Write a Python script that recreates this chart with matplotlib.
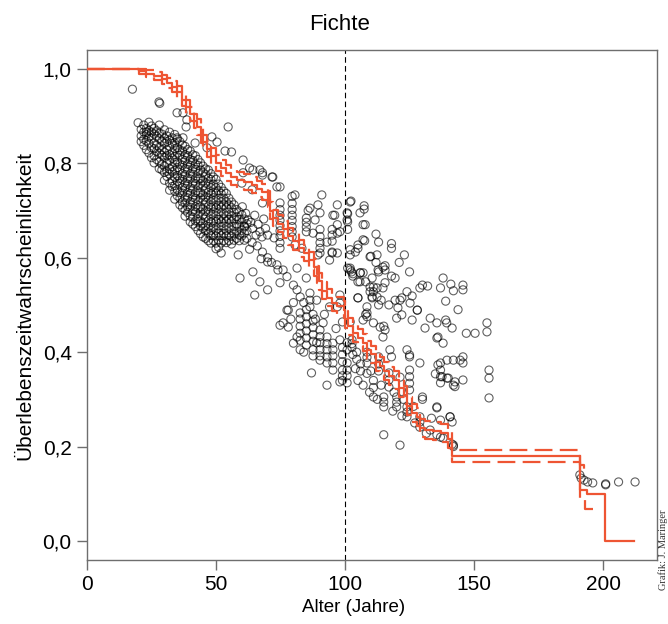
import matplotlib
matplotlib.use("Agg")
import matplotlib.pyplot as plt
from matplotlib import font_manager

# ---------------- data ----------------
title = "Fichte"
xlabel = "Alter (Jahre)"
ylabel = "Überlebenszeitwahrscheinlichkeit"
credit = "Grafik: J. Maringer"
x_ticks = [0, 50, 100, 150, 200]
y_ticks = [0.0, 0.2, 0.4, 0.6, 0.8, 1.0]
y_ticklabels = ["0,0", "0,2", "0,4", "0,6", "0,8", "1,0"]
ref_age = 100

# Kaplan-Meier estimate (step function, 'post')
km_time = [0, 20, 23, 26, 29, 31, 33, 35, 37, 38.5, 40, 41.5, 42.5, 44, 45, 46.5, 48, 50, 52, 54,
           56, 58, 61, 64, 66, 68, 70, 71, 72, 74, 76, 78, 80, 82, 84, 86, 88, 89, 90, 91,
           93, 95, 97, 99.5, 100, 101, 103, 105, 107, 108.5, 110, 112, 113.5, 115, 117, 119, 121, 123, 124, 126,
           128, 129, 131, 134, 137, 140, 141.5, 191, 193.8, 200.8, 212]
km_surv = [1.0, 0.995, 0.99, 0.985, 0.978, 0.97, 0.962, 0.95, 0.935, 0.92, 0.905, 0.89, 0.877, 0.86, 0.845, 0.83, 0.815, 0.80, 0.79, 0.78,
           0.77, 0.765, 0.76, 0.755, 0.745, 0.74, 0.725, 0.70, 0.685, 0.672, 0.66, 0.645, 0.635, 0.62, 0.61, 0.595, 0.58, 0.565, 0.55, 0.53,
           0.515, 0.505, 0.498, 0.49, 0.47, 0.455, 0.44, 0.43, 0.42, 0.405, 0.395, 0.38, 0.37, 0.36, 0.35, 0.34, 0.325, 0.31, 0.285, 0.272,
           0.262, 0.24, 0.235, 0.232, 0.228, 0.215, 0.18, 0.108, 0.10, 0.0, 0.0]

up_time = [0, 20, 23, 26, 29, 31, 33, 35, 37, 38.5, 40, 41.5, 42.5, 44, 45, 46.5, 48, 50, 52, 54,
           56, 58, 61, 64, 66, 68, 70, 71, 72, 74, 76, 78, 80, 82, 84, 86, 88, 89, 90, 91,
           93, 95, 97, 99.5, 100, 101, 103, 105, 107, 108.5, 110, 112, 113.5, 115, 117, 119, 121, 123, 124, 126,
           128, 129, 131, 134, 137, 140, 141.5, 191, 192.5, 194]
up_surv = [1.0, 1.0, 0.998, 0.994, 0.988, 0.981, 0.974, 0.963, 0.949, 0.935, 0.92, 0.905, 0.893, 0.876, 0.861, 0.847, 0.832, 0.817, 0.807, 0.797,
           0.787, 0.782, 0.777, 0.772, 0.762, 0.757, 0.742, 0.717, 0.702, 0.69, 0.678, 0.663, 0.653, 0.638, 0.628, 0.613, 0.598, 0.583, 0.568, 0.548,
           0.533, 0.523, 0.516, 0.508, 0.488, 0.473, 0.458, 0.448, 0.438, 0.424, 0.414, 0.399, 0.389, 0.379, 0.369, 0.359, 0.344, 0.329, 0.304, 0.291,
           0.281, 0.259, 0.254, 0.251, 0.247, 0.234, 0.193, 0.161, 0.148, 0.148]

lo_time = [0, 20, 23, 26, 29, 31, 33, 35, 37, 38.5, 40, 41.5, 42.5, 44, 45, 46.5, 48, 50, 52, 54,
           56, 58, 61, 64, 66, 68, 70, 71, 72, 74, 76, 78, 80, 82, 84, 86, 88, 89, 90, 91,
           93, 95, 97, 99.5, 100, 101, 103, 105, 107, 108.5, 110, 112, 113.5, 115, 117, 119, 121, 123, 124, 126,
           128, 129, 131, 134, 137, 140, 141.5, 191, 193, 196]
lo_surv = [1.0, 0.99, 0.982, 0.976, 0.968, 0.959, 0.95, 0.937, 0.921, 0.905, 0.89, 0.875, 0.861, 0.844, 0.829, 0.813, 0.798, 0.783, 0.773, 0.763,
           0.753, 0.748, 0.743, 0.738, 0.728, 0.723, 0.708, 0.683, 0.668, 0.654, 0.642, 0.627, 0.617, 0.602, 0.592, 0.577, 0.562, 0.547, 0.532, 0.512,
           0.497, 0.487, 0.48, 0.472, 0.452, 0.437, 0.422, 0.412, 0.402, 0.386, 0.376, 0.361, 0.351, 0.341, 0.331, 0.321, 0.306, 0.291, 0.266, 0.253,
           0.243, 0.221, 0.216, 0.213, 0.209, 0.196, 0.167, 0.087, 0.068, 0.068]

# Dense cloud of young trees: ages and per-age survival probabilities
cloud_ages = list(range(21, 63))
cloud_probs = [
    [0.872, 0.858, 0.846],
    [0.881, 0.866, 0.851, 0.838],
    [0.874, 0.861, 0.829, 0.848],
    [0.887, 0.869, 0.856, 0.842, 0.822],
    [0.879, 0.866, 0.853, 0.833, 0.812],
    [0.874, 0.862, 0.843, 0.831, 0.816, 0.801],
    [0.869, 0.857, 0.838, 0.826, 0.808],
    [0.881, 0.864, 0.852, 0.834, 0.821, 0.803, 0.789],
    [0.862, 0.847, 0.829, 0.817, 0.798, 0.786],
    [0.871, 0.853, 0.842, 0.823, 0.812, 0.794, 0.781, 0.764],
    [0.858, 0.846, 0.828, 0.816, 0.801, 0.783, 0.772],
    [0.866, 0.849, 0.836, 0.818, 0.806, 0.788, 0.777, 0.758, 0.743],
    [0.854, 0.842, 0.823, 0.811, 0.793, 0.782, 0.763, 0.751],
    [0.861, 0.843, 0.831, 0.814, 0.802, 0.784, 0.771, 0.753, 0.741, 0.724],
    [0.851, 0.833, 0.822, 0.803, 0.791, 0.774, 0.762, 0.744, 0.731],
    [0.846, 0.828, 0.817, 0.798, 0.786, 0.768, 0.757, 0.738, 0.726, 0.712],
    [0.839, 0.826, 0.808, 0.796, 0.778, 0.766, 0.748, 0.737, 0.718, 0.706],
    [0.836, 0.818, 0.806, 0.788, 0.776, 0.758, 0.747, 0.728, 0.716, 0.701, 0.688],
    [0.829, 0.816, 0.798, 0.787, 0.768, 0.756, 0.738, 0.727, 0.708, 0.696],
    [0.826, 0.808, 0.796, 0.778, 0.767, 0.748, 0.736, 0.718, 0.707, 0.688, 0.676],
    [0.818, 0.806, 0.788, 0.777, 0.758, 0.746, 0.728, 0.717, 0.698, 0.686, 0.671],
    [0.816, 0.798, 0.787, 0.768, 0.757, 0.738, 0.726, 0.708, 0.697, 0.678, 0.666],
    [0.808, 0.796, 0.778, 0.767, 0.748, 0.737, 0.718, 0.706, 0.688, 0.677, 0.658],
    [0.801, 0.786, 0.768, 0.757, 0.738, 0.727, 0.708, 0.697, 0.678, 0.667, 0.651],
    [0.794, 0.781, 0.763, 0.752, 0.733, 0.722, 0.703, 0.691, 0.673, 0.662, 0.644],
    [0.788, 0.776, 0.758, 0.746, 0.728, 0.717, 0.698, 0.686, 0.668, 0.657, 0.641],
    [0.786, 0.768, 0.756, 0.738, 0.727, 0.708, 0.697, 0.678, 0.666, 0.652, 0.636],
    [0.778, 0.766, 0.748, 0.736, 0.718, 0.707, 0.688, 0.676, 0.658, 0.647, 0.631],
    [0.771, 0.756, 0.738, 0.727, 0.708, 0.697, 0.678, 0.667, 0.648, 0.636],
    [0.766, 0.748, 0.737, 0.718, 0.706, 0.688, 0.677, 0.658, 0.646, 0.631, 0.619],
    [0.756, 0.742, 0.726, 0.711, 0.697, 0.681, 0.667, 0.652, 0.637, 0.622],
    [0.749, 0.736, 0.718, 0.707, 0.688, 0.676, 0.658, 0.647, 0.631],
    [0.741, 0.726, 0.712, 0.694, 0.682, 0.667, 0.651, 0.636],
    [0.736, 0.718, 0.706, 0.688, 0.677, 0.658, 0.646, 0.632],
    [0.726, 0.712, 0.697, 0.681, 0.667, 0.648, 0.636],
    [0.718, 0.706, 0.688, 0.677, 0.658, 0.646, 0.629],
    [0.712, 0.696, 0.682, 0.666, 0.651, 0.637],
    [0.702, 0.687, 0.671, 0.656, 0.641],
    [0.697, 0.681, 0.667, 0.648, 0.636],
    [0.691, 0.676, 0.658, 0.646],
    [0.682, 0.667, 0.652, 0.637],
    [0.672, 0.657, 0.641],
]

# Scattered observations (age, survival probability)
pts_upper_left = [(17.6, 0.957), (27.9, 0.930), (28.2, 0.927), (34.9, 0.907), (37.2, 0.907), (38.7, 0.892),
                  (19.8, 0.886), (23.0, 0.866), (38.4, 0.877), (54.7, 0.877), (34.9, 0.854), (37.2, 0.854),
                  (41.9, 0.843), (48.4, 0.856), (50.4, 0.845), (46.5, 0.833), (56.0, 0.824), (53.5, 0.826),
                  (60.5, 0.807), (64.3, 0.786), (67.0, 0.786), (68.0, 0.775), (71.7, 0.771), (73.6, 0.750),
                  (60.0, 0.758), (64.0, 0.744), (68.0, 0.716), (60.5, 0.780), (68.0, 0.780), (72.0, 0.771),
                  (74.8, 0.750), (63.0, 0.790)]
pts_mid = [(60.2, 0.708), (61.5, 0.694), (62.4, 0.680), (61.0, 0.665), (63.5, 0.675), (64.2, 0.662),
           (65.0, 0.690), (65.5, 0.648), (66.3, 0.671), (67.0, 0.655), (67.8, 0.644), (68.5, 0.682),
           (69.2, 0.662), (70.0, 0.648), (64.0, 0.632), (66.0, 0.625), (68.0, 0.612), (70.0, 0.600),
           (71.5, 0.590), (67.5, 0.598), (63.0, 0.618), (58.6, 0.606), (52.0, 0.610), (59.3, 0.557),
           (64.3, 0.570), (67.0, 0.549), (70.0, 0.532), (65.0, 0.521), (74.8, 0.547), (77.5, 0.560),
           (80.0, 0.542), (85.0, 0.557), (74.0, 0.574), (76.0, 0.574), (81.4, 0.578), (73.6, 0.585),
           (70.0, 0.591), (80.6, 0.627), (83.3, 0.620), (87.6, 0.652), (93.0, 0.633), (72.5, 0.642)]
pts_columns = [(74.8, 0.716), (74.8, 0.702), (74.8, 0.690), (74.8, 0.679), (74.8, 0.668), (74.8, 0.657),
               (74.8, 0.645), (74.8, 0.632), (74.8, 0.620),
               (79.5, 0.730), (79.5, 0.715), (79.5, 0.702), (79.5, 0.690), (79.5, 0.679), (79.5, 0.666),
               (79.5, 0.655), (79.5, 0.644),
               (85.0, 0.684), (85.0, 0.675), (85.0, 0.665), (85.0, 0.655),
               (90.3, 0.660), (90.3, 0.645), (90.3, 0.632), (90.3, 0.620), (90.3, 0.610),
               (95.0, 0.660), (95.0, 0.648), (95.0, 0.635), (95.0, 0.612)]
pts_above = [(80.6, 0.733), (91.0, 0.733), (97.0, 0.712), (85.7, 0.700), (90.3, 0.695), (95.3, 0.690),
             (86.4, 0.705), (89.5, 0.712), (96.0, 0.690), (88.4, 0.680), (97.0, 0.670), (98.0, 0.655),
             (97.0, 0.652), (97.0, 0.610), (94.0, 0.595), (89.5, 0.606), (95.0, 0.610), (98.0, 0.521)]
pts_lower_mid = [(77.5, 0.489), (76.0, 0.462), (74.8, 0.457), (78.0, 0.453), (82.6, 0.517), (86.4, 0.525),
                 (86.4, 0.510), (86.4, 0.496), (89.0, 0.510), (94.0, 0.496), (97.0, 0.496), (98.0, 0.504),
                 (78.0, 0.489), (81.4, 0.532), (82.6, 0.483), (82.6, 0.470), (82.6, 0.455), (82.6, 0.440),
                 (82.6, 0.425), (82.6, 0.405), (85.0, 0.490), (85.0, 0.475), (85.0, 0.460), (85.0, 0.445),
                 (85.0, 0.430), (85.0, 0.415), (87.6, 0.480), (87.6, 0.466), (87.6, 0.452), (87.6, 0.437),
                 (87.6, 0.423), (87.6, 0.405), (87.6, 0.392), (90.3, 0.447), (90.3, 0.433), (90.3, 0.420),
                 (90.3, 0.405), (90.3, 0.392), (90.3, 0.383), (93.0, 0.432), (93.0, 0.418), (93.0, 0.405),
                 (93.0, 0.390), (93.0, 0.377), (95.3, 0.419), (95.3, 0.405), (95.3, 0.392), (95.3, 0.377),
                 (95.3, 0.362), (98.0, 0.426), (99.0, 0.410), (99.0, 0.395), (99.0, 0.380), (99.0, 0.362),
                 (99.0, 0.350), (99.0, 0.340), (87.0, 0.356), (93.0, 0.330), (98.0, 0.337), (81.4, 0.432),
                 (80.0, 0.419), (84.0, 0.400), (88.5, 0.470), (91.5, 0.462), (89.0, 0.420), (79.0, 0.470),
                 (96.5, 0.450), (92.0, 0.480), (84.0, 0.505), (80.0, 0.505)]
pts_lower_right = [(99.0, 0.464), (102.7, 0.426), (102.7, 0.418), (102.7, 0.410), (100.8, 0.420), (100.8, 0.405),
                   (100.8, 0.377), (100.8, 0.362), (100.8, 0.350), (100.8, 0.335), (104.5, 0.400), (104.5, 0.385),
                   (106.0, 0.375), (106.0, 0.360), (108.5, 0.400), (108.5, 0.389), (108.5, 0.377), (108.5, 0.355),
                   (113.0, 0.390), (113.0, 0.375), (113.0, 0.360), (111.0, 0.340), (111.0, 0.325), (111.0, 0.305),
                   (117.0, 0.356), (117.0, 0.341), (117.0, 0.326), (115.0, 0.305), (115.0, 0.294), (115.0, 0.284),
                   (120.0, 0.305), (120.0, 0.294), (120.0, 0.284), (125.0, 0.362), (125.0, 0.348), (125.0, 0.334),
                   (125.0, 0.320), (124.0, 0.284), (124.0, 0.273), (124.0, 0.263), (129.0, 0.263), (129.0, 0.252),
                   (129.0, 0.241), (133.0, 0.235), (135.6, 0.225), (115.0, 0.225), (121.3, 0.203), (125.0, 0.394),
                   (129.0, 0.377), (130.0, 0.300), (135.6, 0.282), (137.0, 0.256), (140.7, 0.263), (141.5, 0.252),
                   (137.0, 0.377), (137.0, 0.362), (137.0, 0.348), (137.0, 0.335), (139.5, 0.345), (142.6, 0.337),
                   (144.6, 0.383), (121.3, 0.347), (130.0, 0.305), (135.6, 0.284), (140.7, 0.263), (117.4, 0.405),
                   (118.0, 0.390), (125.0, 0.390), (124.0, 0.405), (103.0, 0.395), (105.0, 0.340), (107.0, 0.330),
                   (109.5, 0.315), (112.5, 0.300), (118.5, 0.275), (122.0, 0.265), (127.0, 0.250), (131.5, 0.228),
                   (137.0, 0.220), (138.0, 0.218), (142.0, 0.203), (142.0, 0.200), (141.5, 0.205), (110.0, 0.360),
                   (114.0, 0.330), (119.0, 0.315), (122.5, 0.300), (126.5, 0.285), (133.5, 0.260), (104.0, 0.365)]
pts_upper_right = [(102.3, 0.720), (107.4, 0.710), (107.4, 0.703), (101.0, 0.693), (101.0, 0.676), (107.0, 0.670),
                   (101.0, 0.660), (112.0, 0.650), (107.6, 0.636), (113.0, 0.633), (118.0, 0.630), (118.0, 0.620),
                   (105.0, 0.620), (104.0, 0.612), (102.0, 0.606), (110.0, 0.603), (112.4, 0.606), (123.0, 0.606),
                   (121.0, 0.590), (112.0, 0.590), (115.5, 0.583), (115.5, 0.574), (101.0, 0.578), (102.5, 0.570),
                   (106.0, 0.568), (113.0, 0.570), (125.0, 0.570), (103.0, 0.561), (110.5, 0.557), (118.0, 0.561),
                   (119.4, 0.557), (105.0, 0.549), (108.0, 0.549), (111.0, 0.538), (111.0, 0.528), (112.4, 0.536),
                   (114.7, 0.536), (112.4, 0.517), (110.5, 0.515), (114.0, 0.510), (105.0, 0.515), (113.0, 0.500),
                   (117.0, 0.500), (119.4, 0.510), (122.0, 0.515), (120.5, 0.494), (122.0, 0.479), (124.0, 0.528),
                   (126.0, 0.519), (128.0, 0.489), (129.0, 0.536), (132.0, 0.540), (138.0, 0.557), (141.0, 0.544),
                   (137.0, 0.536), (142.0, 0.530), (145.7, 0.542), (145.7, 0.532), (139.0, 0.508), (143.8, 0.490),
                   (108.0, 0.480), (111.0, 0.462), (115.0, 0.455), (133.0, 0.472), (135.6, 0.462), (139.0, 0.468),
                   (139.4, 0.462), (131.0, 0.451), (136.0, 0.432), (141.5, 0.451), (147.0, 0.440), (150.4, 0.440),
                   (155.0, 0.462), (155.0, 0.443), (126.0, 0.468), (155.8, 0.362), (155.8, 0.345), (155.8, 0.303),
                   (135.6, 0.430), (138.0, 0.419), (139.5, 0.383), (136.0, 0.373), (142.0, 0.383), (145.7, 0.390),
                   (145.7, 0.377), (135.0, 0.354), (137.6, 0.348), (140.0, 0.345), (142.0, 0.330), (142.6, 0.327),
                   (145.7, 0.341), (130.0, 0.542), (102.0, 0.574), (103.0, 0.566), (107.0, 0.568), (105.8, 0.549),
                   (109.7, 0.538), (112.8, 0.574), (114.7, 0.580), (115.5, 0.547), (109.7, 0.528), (110.5, 0.517),
                   (105.0, 0.515), (108.5, 0.483), (107.0, 0.468), (102.0, 0.464), (113.6, 0.453), (115.5, 0.447),
                   (114.7, 0.432), (120.0, 0.472), (121.3, 0.510), (125.2, 0.504), (128.0, 0.489), (102.0, 0.718),
                   (100.8, 0.695), (100.8, 0.680), (105.8, 0.695), (107.8, 0.670), (107.0, 0.638), (105.0, 0.627),
                   (102.0, 0.617), (102.0, 0.578), (105.8, 0.568), (108.5, 0.496), (108.5, 0.475), (109.7, 0.602)]
pts_tail = [(191.0, 0.140), (191.5, 0.133), (192.6, 0.129), (194.0, 0.125), (196.0, 0.123), (201.0, 0.119),
            (201.0, 0.121), (206.0, 0.125), (212.4, 0.125)]

# ---------------- figure ----------------
W, H = 668, 624
fig = plt.figure(figsize=(W / 100, H / 100), dpi=100)

avail = {f.name for f in font_manager.fontManager.ttflist}
sans = "Liberation Sans Narrow" if "Liberation Sans Narrow" in avail else "Liberation Sans"
plt.rcParams["font.family"] = [sans, "DejaVu Sans"]

ax = fig.add_axes([87 / W, 1 - 560 / H, (657 - 87) / W, (560 - 50) / H])
ax.set_xlim(0, 220.9)
ax.set_ylim(-0.0403, 1.040)

red = "#EE5533"
pt_color = (0, 0, 0, 0.62)

all_pts = []
for age, probs in zip(cloud_ages, cloud_probs):
    for p in probs:
        all_pts.append((age, p))
for grp in (pts_upper_left, pts_mid, pts_columns, pts_above, pts_lower_mid,
            pts_lower_right, pts_upper_right, pts_tail):
    all_pts.extend(grp)
xs = [a for a, _ in all_pts]
ys = [b for _, b in all_pts]
ax.scatter(xs, ys, s=34, facecolors="none", edgecolors=[pt_color], linewidths=0.8, zorder=2)

ax.step(km_time, km_surv, where="post", color=red, lw=1.6, zorder=3)
ax.step(up_time, up_surv, where="post", color=red, lw=1.6, linestyle=(0, (8, 3.3)), zorder=3)
ax.step(lo_time, lo_surv, where="post", color=red, lw=1.6, linestyle=(0, (8, 3.3)), zorder=3)

ax.axvline(ref_age, color="black", lw=0.8, linestyle=(0, (5, 3)), zorder=1)

gray = "#6e6e6e"
for sp in ax.spines.values():
    sp.set_color(gray)
    sp.set_linewidth(1.0)
ax.set_xticks(x_ticks)
ax.set_xticklabels([str(t) for t in x_ticks])
ax.set_yticks(y_ticks)
ax.set_yticklabels(y_ticklabels)
ax.tick_params(axis="both", which="major", length=7, width=1.0, color=gray,
               labelsize=15, pad=4)

fig.text(354 / W, 1 - 608 / H, xlabel, ha="center", va="center", fontsize=13.5)
ax.set_ylabel(ylabel, fontsize=15, labelpad=6)

fig.text(340 / W, 1 - 24 / H, title, ha="center", va="center", fontsize=16)
fig.text(658 / W, 1 - 590 / H, credit, rotation=90, ha="left", va="bottom",
         fontsize=7.5, family=["Liberation Serif", "DejaVu Serif"], color="#333333")

fig.savefig("out.png", dpi=100)
